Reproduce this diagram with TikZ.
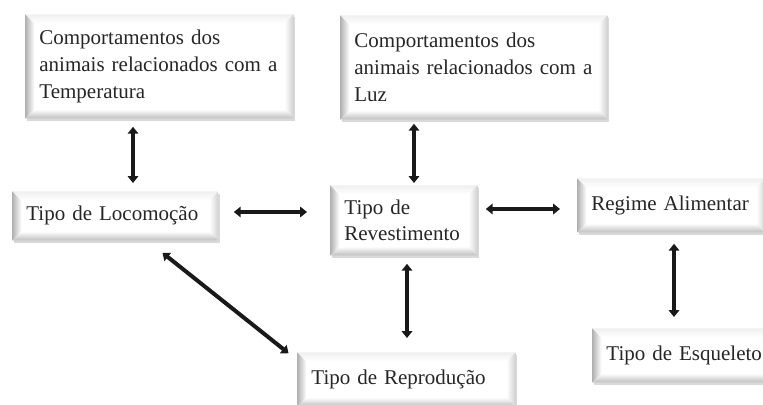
\documentclass[tikz,border=0pt]{standalone}
\usepackage{fontspec}
\setmainfont{Liberation Serif}
\usetikzlibrary{arrows.meta, calc, shadows}

\begin{document}
\begin{tikzpicture}[x=0.5pt,y=-0.5pt,
	every node/.style={font=\fontsize{10.5}{13.3}\selectfont,text=black!85},
	caixa/.style={rectangle,fill=white,inner xsep=7pt,inner ysep=0pt,align=left,anchor=north west,
		drop shadow={shadow xshift=0.8pt,shadow yshift=-1.2pt,opacity=0.3},
		path picture={
			\coordinate (nw) at (path picture bounding box.north west);
			\coordinate (ne) at (path picture bounding box.north east);
			\coordinate (sw) at (path picture bounding box.south west);
			\coordinate (se) at (path picture bounding box.south east);
			\shade[left color=black!30,right color=white](nw)--($(nw)+(\bev,-\bev)$)--($(sw)+(\bev,\bev)$)--(sw)--cycle;
			\shade[top color=black!6,bottom color=white](nw)--(ne)--($(ne)+(-\bev,-\bev)$)--($(nw)+(\bev,-\bev)$)--cycle;
			\shade[left color=white,right color=black!18](ne)--(se)--($(se)+(-\bev,\bev)$)--($(ne)+(-\bev,-\bev)$)--cycle;
			\shade[top color=white,bottom color=black!25](sw)--($(sw)+(\bev,\bev)$)--($(se)+(-\bev,\bev)$)--(se)--cycle;
		}},
	seta/.style={line width=2pt,black!90,{Triangle[length=3.4pt,width=5.2pt]}-{Triangle[length=3.4pt,width=5.2pt]}}]
		\def\bev{4.5pt}
		
		\useasboundingbox (0,0) rectangle (763,405);
		\clip (0,0) rectangle (763,405);
		
		\node[caixa,text width=120pt,minimum height=52pt] (temp) at (25,14) {Comportamentos dos\\animais relacionados com a\\Temperatura};
		\node[caixa,text width=119.5pt,minimum height=52pt] (luz) at (340,15) {Comportamentos dos\\animais relacionados com a\\Luz};
		\node[caixa,text width=89pt,minimum height=24.5pt] (loco) at (12,191) {Tipo de Locomoção};
		\node[caixa,text width=59.5pt,minimum height=35pt] (rev) at (330,185) {Tipo de\\Revestimento};
		\node[caixa,text width=80pt,minimum height=27pt] (reg) at (577,178) {Regime Alimentar};
		\node[caixa,text width=95pt,minimum height=27pt] (rep) at (297,352) {Tipo de Reprodução};
		\node[caixa,text width=80pt,minimum height=27pt] (esq) at (592,328) {Tipo de Esqueleto};
		
		\coordinate (xA) at (133,0);
		\coordinate (xB) at (414,0);
		\coordinate (xC) at (407,0);
		\coordinate (xD) at (674,0);
		\coordinate (yA) at (0,212);
		\coordinate (yB) at (0,209);
		
		\draw[seta,shorten <=4pt,shorten >=4pt](temp.south -| xA)--(loco.north -| xA);
		\draw[seta,shorten <=2pt,shorten >=1pt](luz.south -| xB)--(rev.north -| xB);
		\draw[seta,shorten <=7.5pt,shorten >=11.5pt](loco.east |- yA)--(rev.west |- yA);
		\draw[seta,shorten <=4pt,shorten >=8.5pt](rev.east |- yB)--(reg.west |- yB);
		\draw[seta,shorten <=4pt,shorten >=7pt](rev.south -| xC)--(rep.north -| xC);
		\draw[seta,shorten <=5.5pt,shorten >=5.5pt](reg.south -| xD)--(esq.north -| xD);
		\draw[seta,shorten <=9.6pt,shorten >=5.4pt]($(loco.south west)!0.655!(loco.south east)$)--($(rep.north west)+(0,8)$);
	\end{tikzpicture}
\end{document}
